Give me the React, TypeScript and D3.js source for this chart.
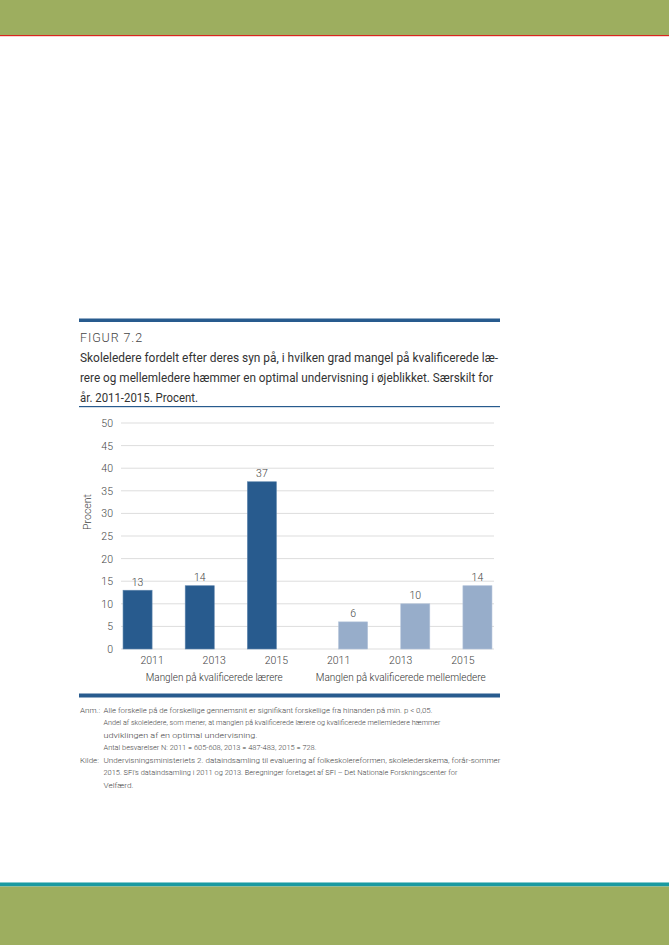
import { scaleBand, scaleLinear } from "d3";

const years = ["2011", "2013", "2015"];
const groups = ["Manglen på kvalificerede lærere", "Manglen på kvalificerede mellemledere"];
const teacherValues = [13, 14, 37];
const middleValues = [6, 10, 14];
const yTicks = [0, 5, 10, 15, 20, 25, 30, 35, 40, 45, 50];

const titleLines = [
  "Skoleledere fordelt efter deres syn på, i hvilken grad mangel på kvalificerede læ-",
  "rere og mellemledere hæmmer en optimal undervisning i øjeblikket. Særskilt for",
  "år. 2011-2015. Procent.",
];

const noteLines = [
  { head: "Anm.:", text: "Alle forskelle på de forskellige gennemsnit er signifikant forskellige fra hinanden på min. p < 0,05.", w: 329 },
  { head: "", text: "Andel af skoleledere, som mener, at manglen på kvalificerede lærere og kvalificerede mellemledere hæmmer", w: 337 },
  { head: "", text: "udviklingen af en optimal undervisning.", w: 154 },
  { head: "", text: "Antal besvarelser N: 2011 = 605-608, 2013 = 487-483, 2015 = 728.", w: 213 },
  { head: "Kilde:", text: "Undervisningsministeriets 2. dataindsamling til evaluering af folkeskolereformen, skolelederskema, forår-sommer", w: 397 },
  { head: "", text: "2015. SFI's dataindsamling i 2011 og 2013. Beregninger foretaget af SFI – Det Nationale Forskningscenter for", w: 354 },
  { head: "", text: "Velfærd.", w: 30 },
];

const FONT = "Roboto, 'Open Sans', sans-serif";
const DARK = "#285b8e";
const LIGHT = "#97adca";

export default function App() {
  const categories = groups.flatMap((g) => years.map((y) => `${g}|${y}`));
  const values = [...teacherValues, ...middleValues];

  const x = scaleBand<string>().domain(categories).range([121, 494]).padding(0);
  const series = scaleBand<string>()
    .domain(["lærere", "mellemledere"])
    .range([0, x.bandwidth()])
    .paddingInner(0)
    .paddingOuter(0.07);
  const y = scaleLinear().domain([0, 50]).range([649, 423]);

  const titleWidths = [418, 413, 118];
  const groupWidths = [137, 170];

  return (
    <svg
      width={669}
      height={945}
      viewBox="0 0 669 945"
      style={{ position: "absolute", left: 0, top: 0, background: "#fff" }}
      fontFamily={FONT}
    >
      {/* page bands */}
      <rect x={0} y={0} width={669} height={35} fill="#9dae5f" />
      <rect x={0} y={35} width={669} height={1.2} fill="#d9261f" />
      <rect x={0} y={882} width={669} height={1} fill="#86cbd0" />
      <rect x={0} y={883} width={669} height={3.5} fill="#1a9aa1" />
      <rect x={0} y={886.5} width={669} height={58.5} fill="#9dae5f" />

      {/* header */}
      <rect x={79} y={318.5} width={421} height={3.5} fill={DARK} />
      <text x={80} y={342} fontSize={12.5} fill="#444" fontWeight={300} letterSpacing={0.9}>
        FIGUR 7.2
      </text>
      {titleLines.map((t, i) => (
        <text
          key={i}
          x={80}
          y={362 + i * 20}
          fontSize={12.2}
          fill="#333"
          textLength={titleWidths[i]}
          lengthAdjust="spacingAndGlyphs"
        >
          {t}
        </text>
      ))}
      <rect x={79} y={406} width={421} height={1.2} fill={DARK} />

      {/* grid + y axis */}
      {yTicks.map((t) => (
        <g key={t}>
          <line x1={121} x2={494} y1={y(t)} y2={y(t)} stroke="#dddddd" strokeWidth={1} />
          <text x={113} y={y(t) + 4} fontSize={10.5} fontWeight={300} fill="#444" textAnchor="end">
            {t}
          </text>
        </g>
      ))}
      <text
        transform={`translate(91,512) rotate(-90)`}
        fontSize={10.5}
        fontWeight={300}
        fill="#444"
        textAnchor="middle"
      >
        Procent
      </text>

      {/* bars */}
      {categories.map((c, i) => {
        const isTeacher = i < years.length;
        const bx = (x(c) ?? 0) + (series(isTeacher ? "lærere" : "mellemledere") ?? 0);
        const v = values[i];
        return (
          <g key={c}>
            <rect
              x={bx}
              y={y(v)}
              width={series.bandwidth()}
              height={y(0) - y(v)}
              fill={isTeacher ? DARK : LIGHT}
              stroke={isTeacher ? "#5f86ad" : "#b3c4da"}
              strokeWidth={0.6}
            />
            <text
              x={bx + series.bandwidth() / 2}
              y={y(v) - 4.5}
              fontSize={10.5}
              fontWeight={300}
              fill="#444"
              textAnchor="middle"
            >
              {v}
            </text>
            <text
              x={(x(c) ?? 0) + x.bandwidth() / 2}
              y={664}
              fontSize={10.5}
              fontWeight={300}
              fill="#444"
              textAnchor="middle"
            >
              {c.split("|")[1]}
            </text>
          </g>
        );
      })}

      {/* group labels */}
      {groups.map((g, gi) => {
        const first = x(`${g}|${years[0]}`) ?? 0;
        const last = (x(`${g}|${years[years.length - 1]}`) ?? 0) + x.bandwidth();
        return (
          <text
            key={g}
            x={(first + last) / 2}
            y={681}
            fontSize={10.2}
            fontWeight={300}
            fill="#333"
            textAnchor="middle"
            textLength={groupWidths[gi]}
            lengthAdjust="spacingAndGlyphs"
          >
            {g}
          </text>
        );
      })}

      <rect x={79} y={693.5} width={421} height={4} fill={DARK} />

      {/* notes */}
      {noteLines.map((n, i) => (
        <g key={i}>
          {n.head && (
            <text x={80} y={712.5 + i * 12.5} fontSize={8} fontWeight={300} fill="#444">
              {n.head}
            </text>
          )}
          <text
            x={103.5}
            y={712.5 + i * 12.5}
            fontSize={8}
            fontWeight={300}
            fill="#444"
            textLength={n.w}
            lengthAdjust="spacingAndGlyphs"
          >
            {n.text}
          </text>
        </g>
      ))}
    </svg>
  );
}
